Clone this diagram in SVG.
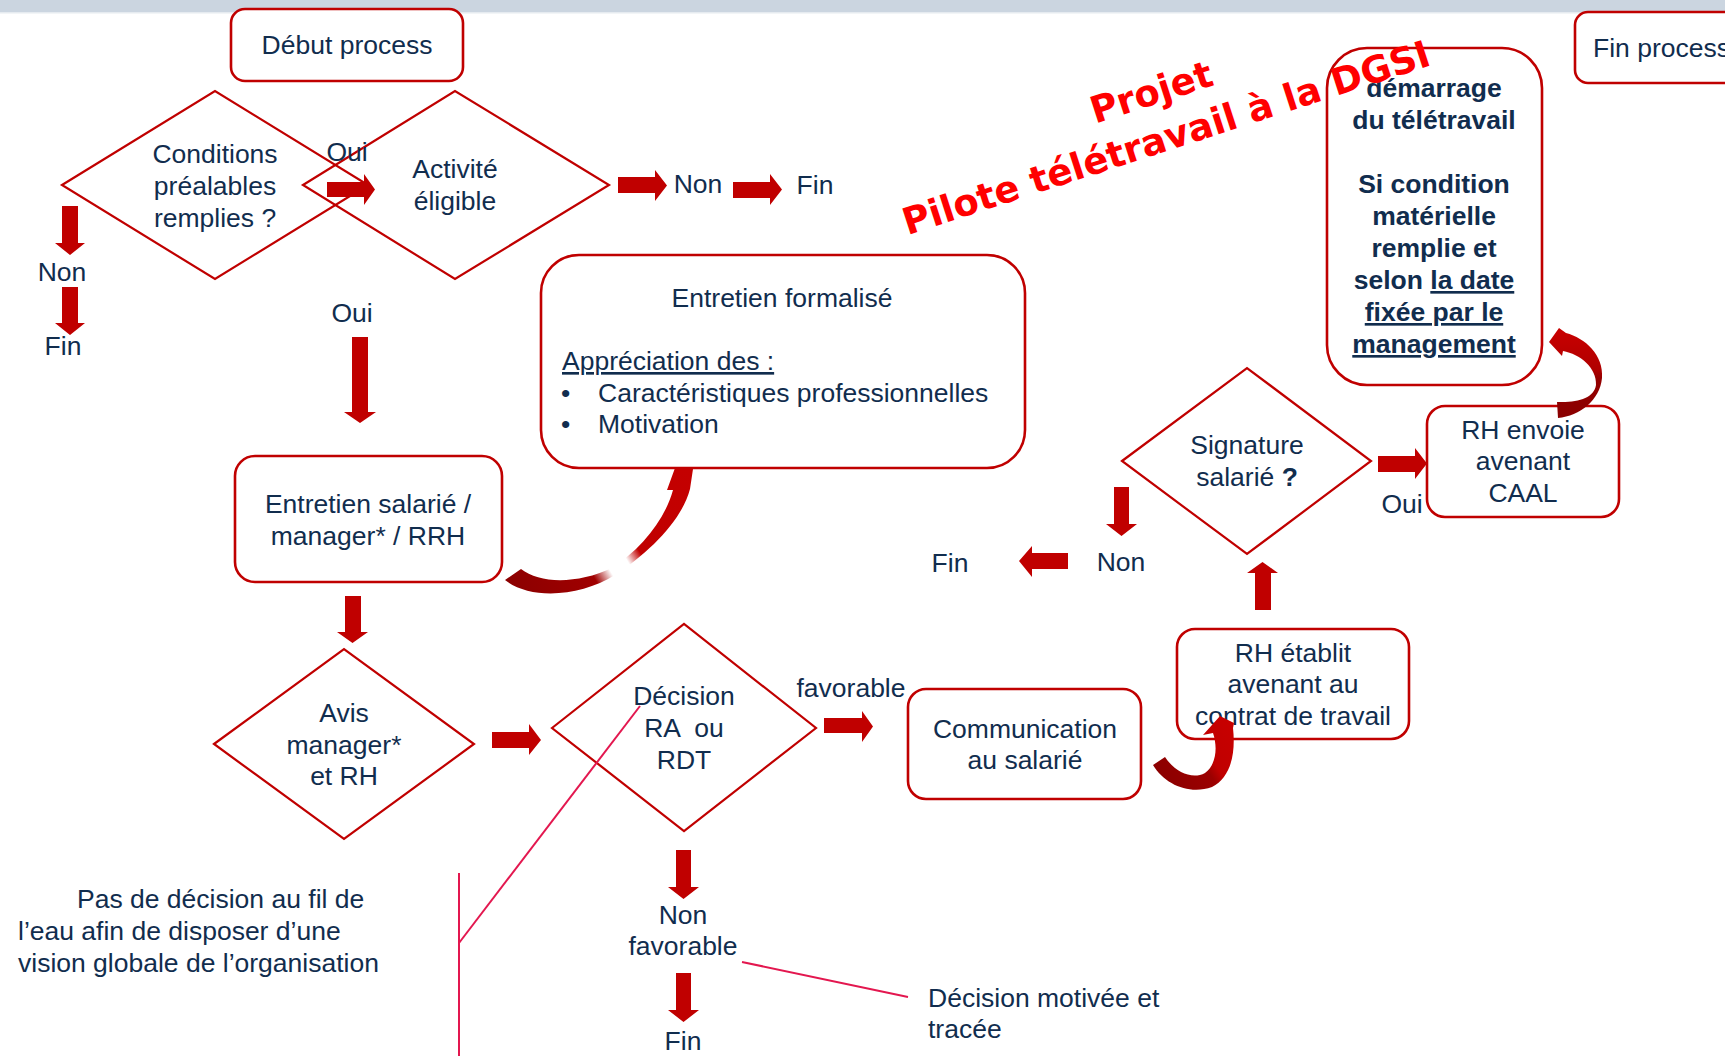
<svg xmlns="http://www.w3.org/2000/svg" width="1725" height="1056" viewBox="0 0 1725 1056">
<defs>
<style>
.t{font-family:"Liberation Sans",Arial,sans-serif;font-size:26.5px;fill:#112d4e}
.c{text-anchor:middle}
.b{font-weight:bold}
.u{text-decoration:underline}
.box{fill:#fff;stroke:#c00000;stroke-width:2.6}
.dia{fill:none;stroke:#c00000;stroke-width:2.2}
.arr{fill:#c00000}
.pk{stroke:#e3174f;stroke-width:2;fill:none}
.wm{font-family:"DejaVu Sans",Verdana,sans-serif;font-weight:bold;font-size:37px;fill:#ff0000;text-anchor:middle}
</style>
<linearGradient id="g1" gradientUnits="userSpaceOnUse" x1="505" y1="590" x2="692" y2="478">
<stop offset="0" stop-color="#8a0000"/><stop offset="0.38" stop-color="#a00000"/><stop offset="0.46" stop-color="#ffffff"/><stop offset="0.55" stop-color="#ffffff"/><stop offset="0.62" stop-color="#c00000"/><stop offset="1" stop-color="#c40000"/>
</linearGradient>
<linearGradient id="g2" gradientUnits="userSpaceOnUse" x1="1155" y1="775" x2="1235" y2="725">
<stop offset="0" stop-color="#8a0000"/><stop offset="0.5" stop-color="#9c0000"/><stop offset="0.6" stop-color="#c00000"/><stop offset="1" stop-color="#c80000"/>
</linearGradient>
<linearGradient id="g3" gradientUnits="userSpaceOnUse" x1="1580" y1="330" x2="1580" y2="418">
<stop offset="0" stop-color="#c80000"/><stop offset="0.45" stop-color="#b00000"/><stop offset="0.55" stop-color="#940000"/><stop offset="1" stop-color="#8a0000"/>
</linearGradient>
</defs>
<rect x="0" y="0" width="1725" height="1056" fill="#ffffff"/>
<rect x="0" y="0" width="1725" height="12" fill="#cbd5e0"/>
<rect x="0" y="12" width="1725" height="1.5" fill="#e6ebf0"/>

<g id="nodes">
<g id="debut"><rect class="box" x="231" y="9" width="232" height="72" rx="14"/><text class="t c" x="347" y="54">Début process</text></g>
<g id="fin-process"><rect class="box" x="1575" y="12" width="200" height="71" rx="13"/><text class="t" x="1593" y="57">Fin process</text></g>
<g id="conditions"><polygon class="dia" points="62,185 215,91 368,185 215,279"/><text class="t c" x="215" y="163">Conditions</text><text class="t c" x="215" y="195">préalables</text><text class="t c" x="215" y="227">remplies ?</text></g>
<g id="activite"><polygon class="dia" points="303,185 455,91 609,185 455,279"/><text class="t c" x="455" y="178">Activité</text><text class="t c" x="455" y="210">éligible</text></g>
<g id="entretien-formalise"><rect class="box" x="541" y="255" width="484" height="213" rx="38"/>
<text class="t c" x="782" y="307">Entretien formalisé</text>
<text class="t u" x="562" y="370">Appréciation des :</text>
<text class="t" x="561" y="402">•</text><text class="t" x="598" y="402">Caractéristiques professionnelles</text>
<text class="t" x="561" y="433">•</text><text class="t" x="598" y="433">Motivation</text></g>
<g id="entretien-salarie"><rect class="box" x="235" y="456" width="267" height="126" rx="20"/><text class="t c" x="368" y="513">Entretien salarié /</text><text class="t c" x="368" y="545">manager* / RRH</text></g>
<g id="avis"><polygon class="dia" fill="#fff" points="214,744 344,649 474,744 344,839"/><text class="t c" x="344" y="722">Avis</text><text class="t c" x="344" y="754">manager*</text><text class="t c" x="344" y="785">et RH</text></g>
<g id="decision"><polygon class="dia" points="552,728 684,624 816,728 684,831"/><text class="t c" x="684" y="705">Décision</text><text class="t c" x="684" y="737" xml:space="preserve">RA  ou</text><text class="t c" x="684" y="769">RDT</text></g>
<g id="communication"><rect class="box" x="908" y="689" width="233" height="110" rx="18"/><text class="t c" x="1025" y="738">Communication</text><text class="t c" x="1025" y="769">au salarié</text></g>
<g id="rh-etablit"><rect class="box" x="1177" y="629" width="232" height="110" rx="18"/><text class="t c" x="1293" y="662">RH établit</text><text class="t c" x="1293" y="693">avenant au</text><text class="t c" x="1293" y="725">contrat de travail</text></g>
<g id="signature"><polygon class="dia" points="1122,461 1247,368 1371,461 1247,554"/><text class="t c" x="1247" y="454">Signature</text><text class="t c" x="1247" y="486">salarié <tspan class="b">?</tspan></text></g>
<g id="rh-envoie"><rect class="box" x="1427" y="406" width="192" height="111" rx="18"/><text class="t c" x="1523" y="439">RH envoie</text><text class="t c" x="1523" y="470">avenant</text><text class="t c" x="1523" y="502">CAAL</text></g>
<g id="demarrage"><rect class="box" x="1327" y="48" width="215" height="337" rx="40"/>
<text class="t c b" x="1434" y="97">démarrage</text>
<text class="t c b" x="1434" y="129">du télétravail</text>
<text class="t c b" x="1434" y="193">Si condition</text>
<text class="t c b" x="1434" y="225">matérielle</text>
<text class="t c b" x="1434" y="257">remplie et</text>
<text class="t c b" x="1434" y="289">selon <tspan class="u">la date</tspan></text>
<text class="t c b u" x="1434" y="321">fixée par le</text>
<text class="t c b u" x="1434" y="353">management</text></g>
<g id="note-decision"><text class="t" x="77" y="908">Pas de décision au fil de</text><text class="t" x="18" y="940">l’eau afin de disposer d’une</text><text class="t" x="18" y="972">vision globale de l’organisation</text></g>
<g id="note-motivee"><text class="t" x="928" y="1007">Décision motivée et</text><text class="t" x="928" y="1038">tracée</text></g>
</g>

<g id="connectors">
<path class="arr" d="M327,182 H364 V174 L375,189.5 L364,205 V197 H327 Z"/>
<path class="arr" d="M618,177 H655 V170 L667,185.5 L655,201 V193 H618 Z"/>
<path class="arr" d="M733,182 H770 V174 L782,189.5 L770,205 V198 H733 Z"/>
<path class="arr" d="M62,206 V243 H55 L70,255 L85,243 H78 V206 Z"/>
<path class="arr" d="M62,287 V323 H55 L70,335 L85,323 H78 V287 Z"/>
<path class="arr" d="M352,337 V412 H344 L360,423 L376,412 H368 V337 Z"/>
<path class="arr" d="M345,596 V632 H337 L352.5,643 L368,632 H361 V596 Z"/>
<path class="arr" d="M492,732 H529 V724 L541,740 L529,755 V748 H492 Z"/>
<path class="arr" d="M824,718 H862 V711 L873,726.5 L862,742 V733 H824 Z"/>
<path class="arr" d="M676,850 V887 H668 L683.5,899 L699,887 H691 V850 Z"/>
<path class="arr" d="M676,973 V1010 H668 L683.5,1022 L699,1010 H691 V973 Z"/>
<path class="arr" d="M1255,610 V573 H1247 L1262.5,562 L1278,573 H1271 V610 Z"/>
<path class="arr" d="M1114,487 V524 H1106 L1121.5,536 L1137,524 H1129 V487 Z"/>
<path class="arr" d="M1068,553 H1032 V546 L1019,561 L1032,577 V569 H1068 Z"/>
<path class="arr" d="M1378,456 H1415 V448 L1427,463.5 L1415,479 V472 H1378 Z"/>
<path fill="url(#g1)" d="M505,580 C530,600 580,597 615,575 C650,552 682,520 690,489 L693,469 L675,468 L667,490 L673,490 C665,520 640,550 612,568 C578,584 540,584 521,569 Z"/>
<path fill="url(#g2)" d="M1153,765 C1165,785 1190,795 1212,787 C1230,778 1236,755 1233,728 L1234,723 L1220,716 L1203,735 L1213,733 C1218,748 1216,765 1205,773 C1192,780 1175,772 1165,757 Z"/>
<path fill="url(#g3)" d="M1558,418 C1580,416 1600,400 1602,378 C1604,355 1585,338 1566,333 L1559,328 L1549,342 L1562,356 L1563,351 C1580,354 1597,368 1596,385 C1594,398 1578,403 1557,402 Z"/>
<line class="pk" x1="640" y1="706" x2="459" y2="943"/>
<line class="pk" x1="459" y1="873" x2="459" y2="1056"/>
<line class="pk" x1="742" y1="962" x2="908" y2="997"/>
</g>

<g id="labels">
<text class="t c" x="347" y="161">Oui</text>
<text class="t c" x="698" y="193">Non</text>
<text class="t c" x="815" y="194">Fin</text>
<text class="t c" x="62" y="281">Non</text>
<text class="t c" x="63" y="355">Fin</text>
<text class="t c" x="352" y="322">Oui</text>
<text class="t c" x="851" y="697">favorable</text>
<text class="t c" x="1121" y="571">Non</text>
<text class="t c" x="950" y="572">Fin</text>
<text class="t c" x="1402" y="513">Oui</text>
<text class="t c" x="683" y="924">Non</text>
<text class="t c" x="683" y="955">favorable</text>
<text class="t c" x="683" y="1050">Fin</text>
</g>

<g id="watermark" transform="translate(1170,150) rotate(-18)">
<text class="wm" x="0" y="-48">Projet</text>
<text class="wm" x="0" y="0">Pilote télétravail à la DGSI</text>
</g>
</svg>
